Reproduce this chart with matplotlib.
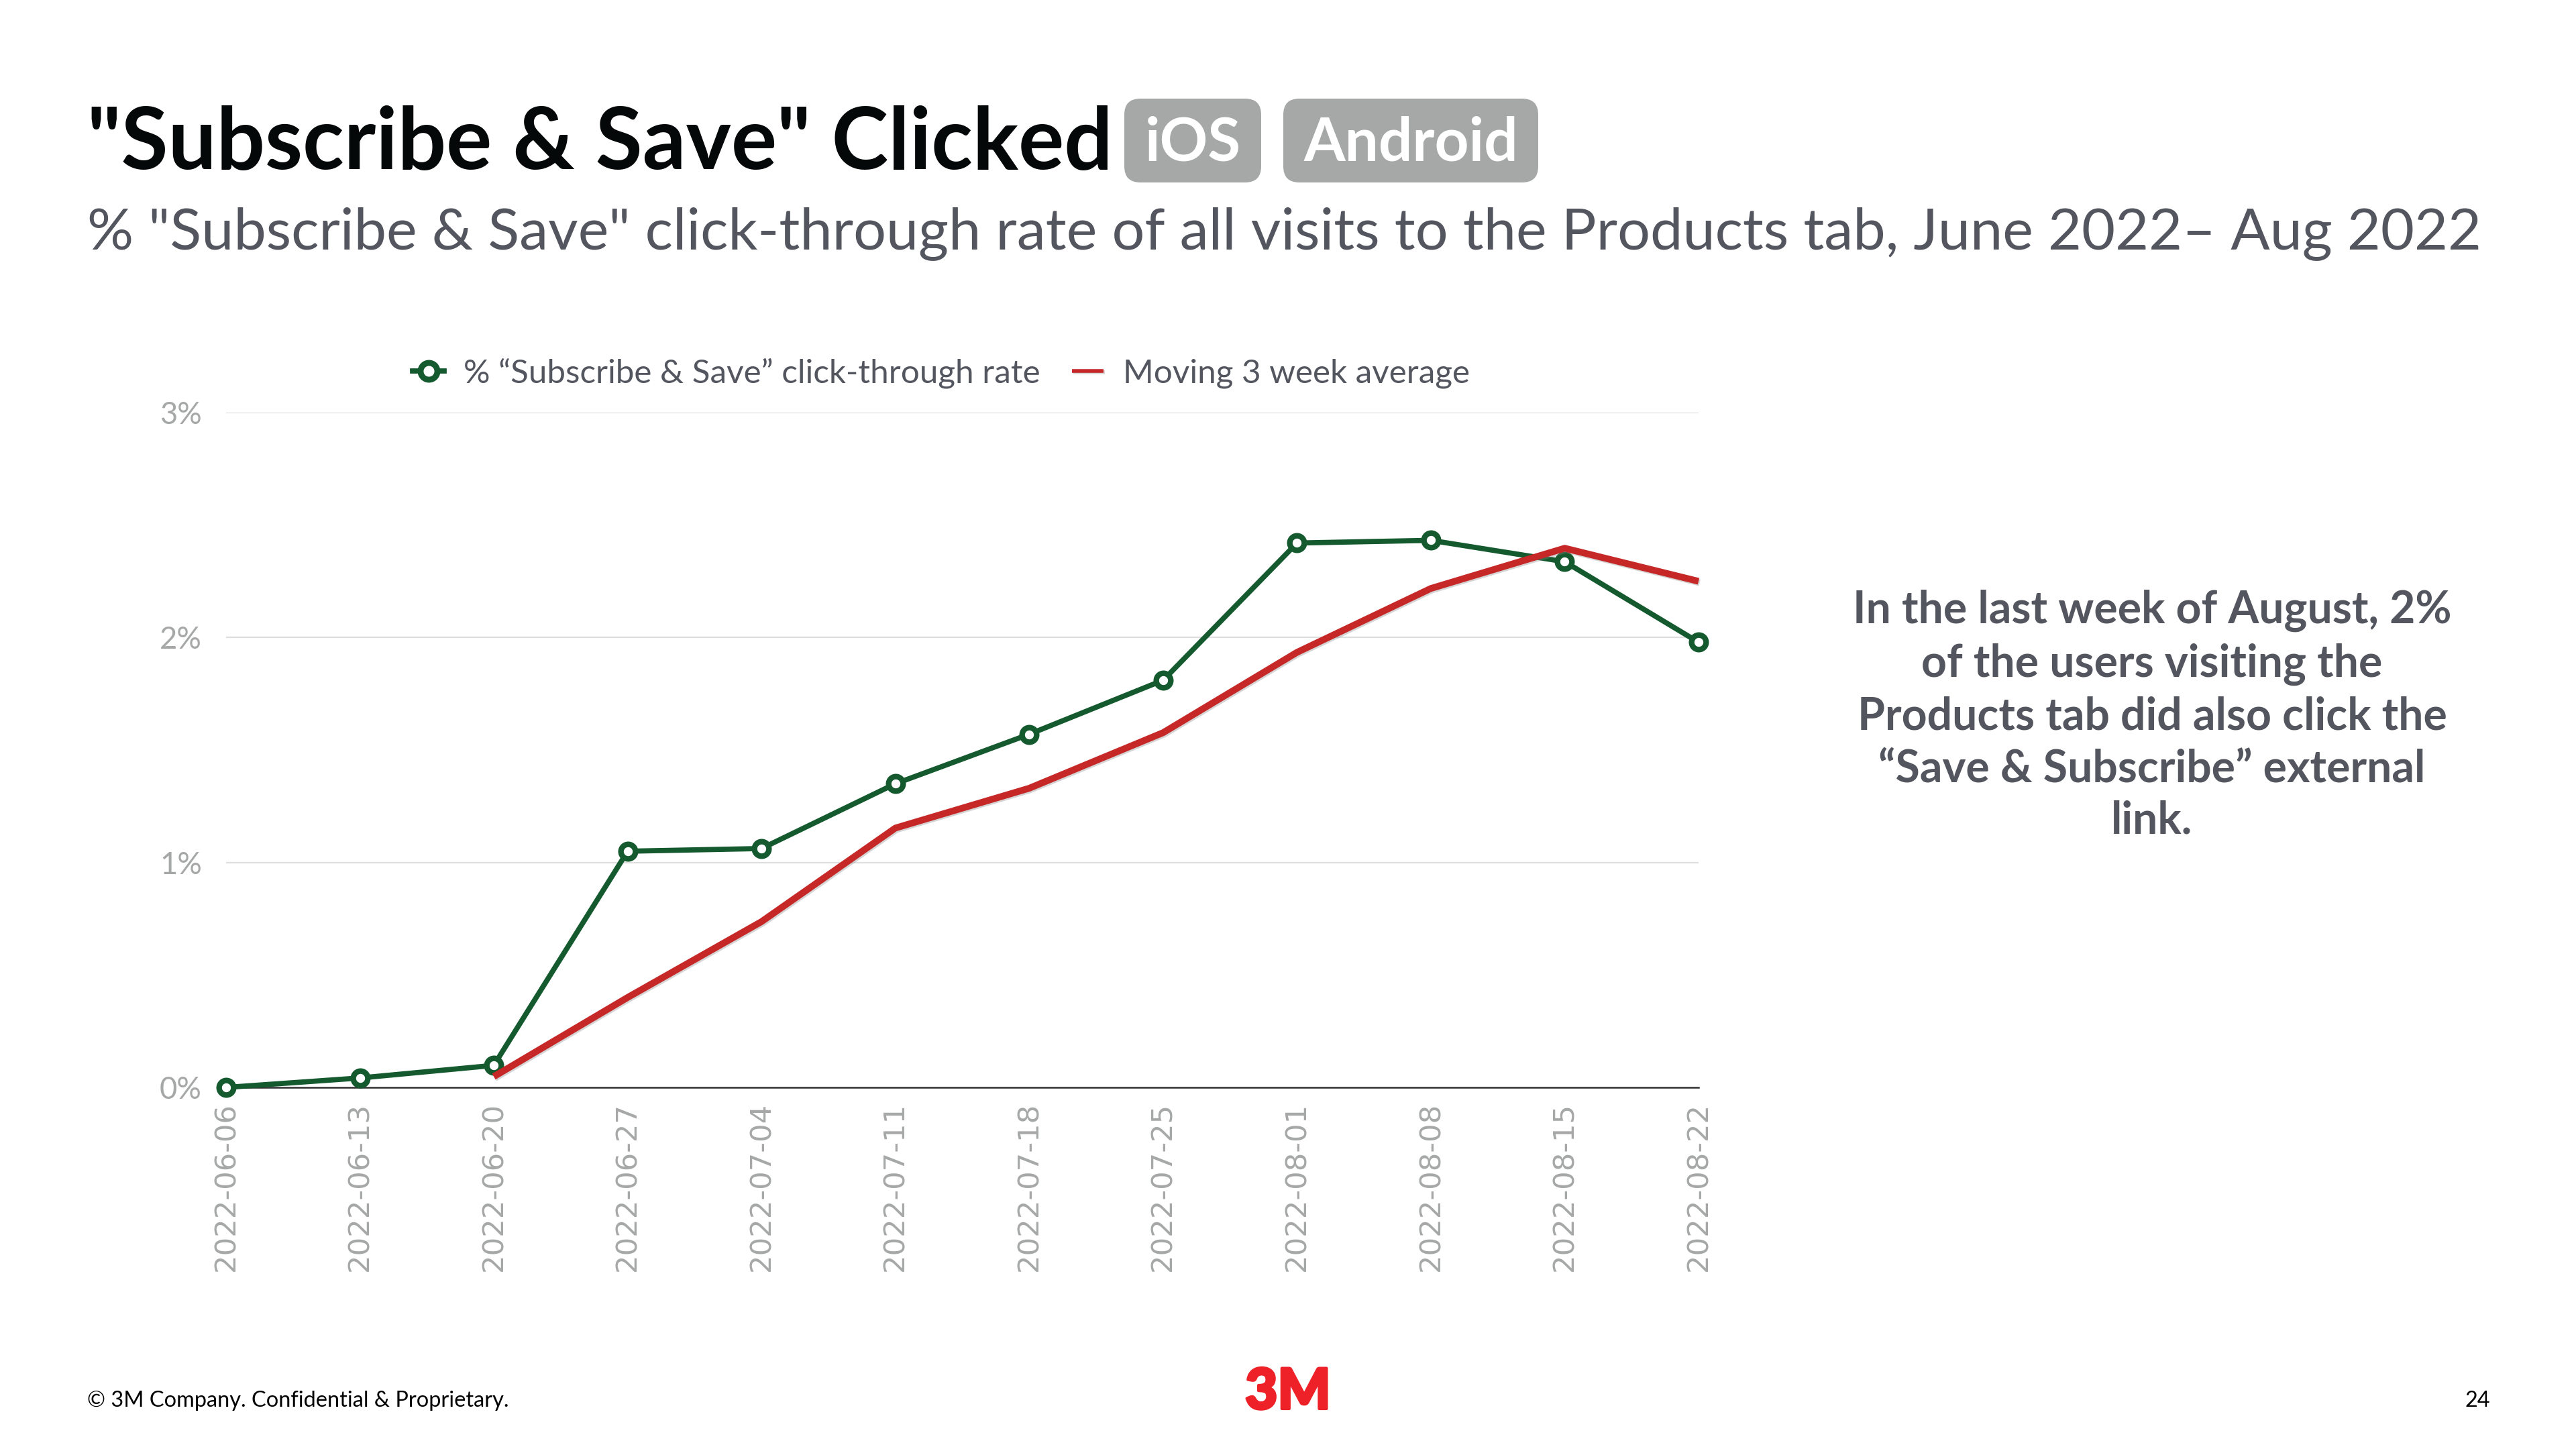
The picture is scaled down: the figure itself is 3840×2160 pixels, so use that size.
import matplotlib.pyplot as plt
import matplotlib.patheffects as pe
from matplotlib.patches import FancyBboxPatch
from matplotlib.transforms import IdentityTransform

weeks = ['2022-06-06', '2022-06-13', '2022-06-20', '2022-06-27', '2022-07-04', '2022-07-11',
         '2022-07-18', '2022-07-25', '2022-08-01', '2022-08-08', '2022-08-15', '2022-08-22']
click_rate = [0.0, 0.042, 0.098, 1.05, 1.062, 1.35, 1.57, 1.81, 2.42, 2.432, 2.337, 1.979]
moving_avg = [None, None, 0.048, 0.40, 0.737, 1.153, 1.33, 1.577, 1.934, 2.218, 2.397, 2.25]
y_ticks = [0, 1, 2, 3]
y_tick_labels = ['0%', '1%', '2%', '3%']

W, H = 3840, 2160
GREEN = '#155a2e'
RED = '#c62828'
GREY = '#a5a8a6'
SLATE = '#53565f'

plt.rcParams['font.family'] = ['Lato', 'DejaVu Sans']

fig = plt.figure(figsize=(19.2, 10.8), dpi=200)


def px_text(x, y, s, **kw):
    # positions in pixels from the top left of the slide
    return fig.text(x / W, 1 - y / H, s, **kw)


# plot area: 0% at y=1621, 3% at y=615
ax = fig.add_axes([337 / W, 1 - 1621 / H, (2532 - 337) / W, (1621 - 615) / H])
x = list(range(len(weeks)))

ax.plot(x, click_rate, color=GREEN, lw=2.8, marker='o', ms=7.8, mew=3.0, mfc='white', mec=GREEN,
        clip_on=False, zorder=3, label='% “Subscribe & Save” click-through rate')
ma_x = [i for i, v in zip(x, moving_avg) if v is not None]
ma_y = [v for v in moving_avg if v is not None]
ax.plot(ma_x, ma_y, color=RED, lw=3.6, solid_capstyle='butt', clip_on=False, zorder=4,
        path_effects=[pe.SimpleLineShadow(offset=(0.6, -0.8), shadow_color='#888888', alpha=0.35),
                      pe.Normal()],
        label='Moving 3 week average')

ax.set_xlim(0, 11)
ax.set_ylim(0, 3)
ax.set_yticks(y_ticks, y_tick_labels)
ax.set_xticks(x, weeks)
ax.tick_params(axis='y', length=0, pad=13, labelsize=16.4, labelcolor=GREY)
ax.tick_params(axis='x', length=0, pad=8, labelcolor=GREY)
for lab in ax.get_xticklabels():
    lab.set(rotation=90, family='DejaVu Sans', fontsize=15.6, ha='center', va='top')
ax.grid(axis='y', color='#dedede', lw=0.8, zorder=0)
ax.set_axisbelow(True)
for name in ['top', 'left', 'right']:
    ax.spines[name].set_visible(False)
ax.spines['bottom'].set(color='#333333', lw=0.9)

leg = ax.legend(loc='lower left', bbox_to_anchor=(0.1267, 1.036), ncol=2, frameon=False, fontsize=17.8,
                labelcolor=SLATE, handlelength=0.95, handletextpad=0.58, columnspacing=0.97,
                borderpad=0, borderaxespad=0)
leg.legend_handles[0].set_markersize(9)
leg.legend_handles[0].set_markeredgewidth(3.2)
leg.legend_handles[1].set_linewidth(2)

# header
px_text(130, 252, '"Subscribe & Save" Clicked', fontsize=46, fontweight='bold', color='#050808', va='baseline')
px_text(130, 371, '% "Subscribe & Save" click-through rate of all visits to the Products tab, June 2022– Aug 2022',
        fontsize=31.1, color=SLATE, va='baseline')

# platform badges
for x0, x1, label in [(1676, 1880, 'iOS'), (1913, 2293, 'Android')]:
    fig.add_artist(FancyBboxPatch((x0 + 24, H - 272 + 24), x1 - x0 - 48, 125 - 48,
                                  boxstyle='round,pad=24,rounding_size=24', transform=IdentityTransform(),
                                  fc=GREY, ec='none'))
    px_text((x0 + x1) / 2, 239, label, fontsize=32, fontweight='bold', color='white', ha='center', va='baseline')

# takeaway
px_text(3208, 1067, 'In the last week of August, 2%\nof the users visiting the\nProducts tab did also click the\n“Save & Subscribe” external\nlink.',
        fontsize=23.8, fontweight='bold', color=SLATE, ha='center', va='center', linespacing=1.316)

# footer
px_text(130, 2097, '© 3M Company. Confidential & Proprietary.', fontsize=11.7, color='black', va='baseline')
px_text(3712, 2097, '24', fontsize=11.7, color='black', ha='right', va='baseline')
px_text(1920, 2100, '3M', fontsize=30, fontweight='black', color='#ee2028', ha='center', va='baseline',
        path_effects=[pe.withStroke(linewidth=1.5, foreground='#ee2028')])

fig.savefig('out.png', dpi=200)
